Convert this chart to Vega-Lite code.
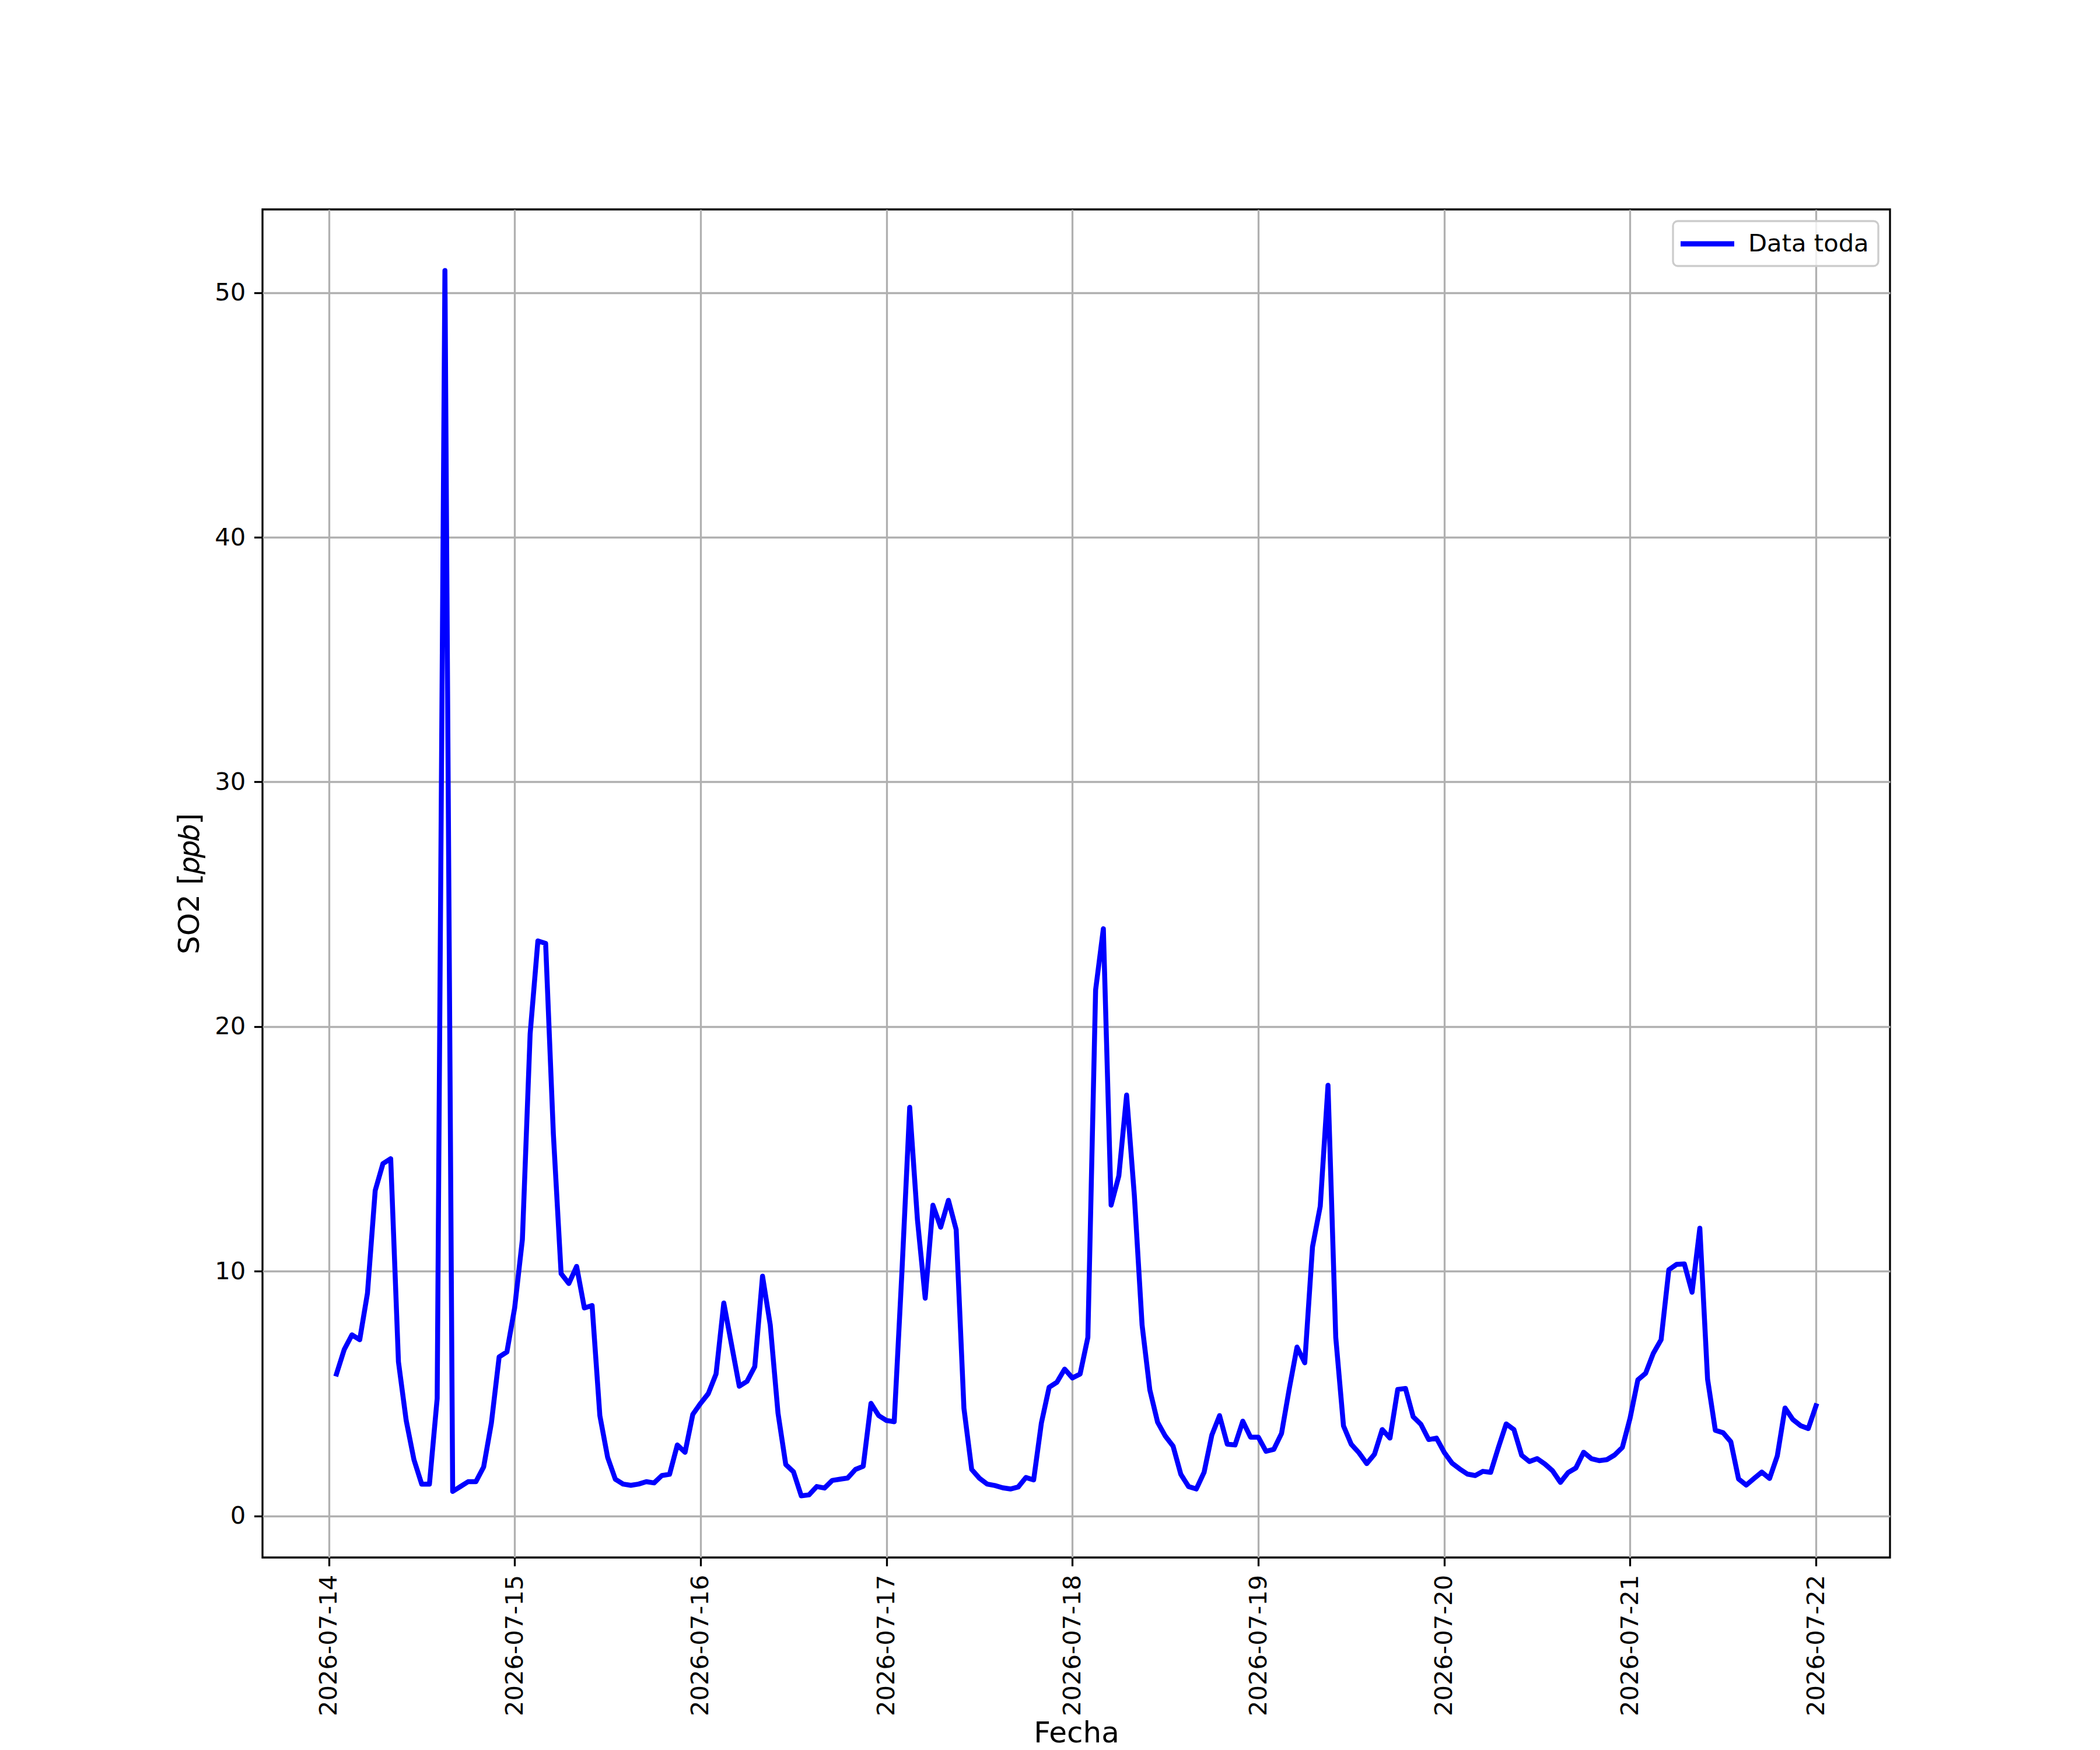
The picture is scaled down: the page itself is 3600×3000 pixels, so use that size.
{
  "$schema": "https://vega.github.io/schema/vega-lite/v6.json",
  "width": 2790,
  "height": 2311,
  "autosize": {"type": "none"},
  "padding": {"left": 450, "top": 359, "right": 360, "bottom": 330},
  "background": "white",
  "config": {
    "font": "DejaVu Sans",
    "view": {"stroke": "black", "strokeWidth": 3.3},
    "axis": {
      "domain": false,
      "grid": true,
      "gridColor": "#b0b0b0",
      "gridWidth": 3.3,
      "ticks": true,
      "tickColor": "black",
      "tickWidth": 3.3,
      "tickSize": 14.6,
      "labelFont": "DejaVu Sans",
      "labelFontSize": 41.7,
      "labelColor": "black",
      "labelPadding": 14.6,
      "labelOverlap": false,
      "labelFlush": false,
      "labelLimit": 0,
      "titleFont": "DejaVu Sans",
      "titleFontSize": 50,
      "titleFontWeight": "normal",
      "titleColor": "black",
      "titleLimit": 0
    },
    "legend": {
      "orient": "top-right",
      "offset": 20,
      "padding": 16,
      "strokeColor": "#cccccc",
      "strokeWidth": 3.3,
      "cornerRadius": 8,
      "fillColor": "rgba(255,255,255,0.8)",
      "labelFont": "DejaVu Sans",
      "labelFontSize": 41.7,
      "labelColor": "black",
      "labelLimit": 0,
      "symbolType": "M-2.5,0L2.5,0",
      "symbolSize": 1354,
      "symbolStrokeWidth": 9,
      "symbolOffset": 20,
      "labelOffset": 47
    }
  },
  "data": {
    "values": [
      {"t": "2026-07-14T01:00:00", "v": 5.8},
      {"t": "2026-07-14T02:00:00", "v": 6.8},
      {"t": "2026-07-14T03:00:00", "v": 7.4},
      {"t": "2026-07-14T04:00:00", "v": 7.2},
      {"t": "2026-07-14T05:00:00", "v": 9.1},
      {"t": "2026-07-14T06:00:00", "v": 13.3},
      {"t": "2026-07-14T07:00:00", "v": 14.4},
      {"t": "2026-07-14T08:00:00", "v": 14.6},
      {"t": "2026-07-14T09:00:00", "v": 6.3},
      {"t": "2026-07-14T10:00:00", "v": 3.9},
      {"t": "2026-07-14T11:00:00", "v": 2.3},
      {"t": "2026-07-14T12:00:00", "v": 1.3},
      {"t": "2026-07-14T13:00:00", "v": 1.3},
      {"t": "2026-07-14T14:00:00", "v": 4.8},
      {"t": "2026-07-14T15:00:00", "v": 50.9},
      {"t": "2026-07-14T16:00:00", "v": 1.0},
      {"t": "2026-07-14T17:00:00", "v": 1.2},
      {"t": "2026-07-14T18:00:00", "v": 1.4},
      {"t": "2026-07-14T19:00:00", "v": 1.4},
      {"t": "2026-07-14T20:00:00", "v": 2.0},
      {"t": "2026-07-14T21:00:00", "v": 3.8},
      {"t": "2026-07-14T22:00:00", "v": 6.5},
      {"t": "2026-07-14T23:00:00", "v": 6.7},
      {"t": "2026-07-15T00:00:00", "v": 8.5},
      {"t": "2026-07-15T01:00:00", "v": 11.3},
      {"t": "2026-07-15T02:00:00", "v": 19.7},
      {"t": "2026-07-15T03:00:00", "v": 23.5},
      {"t": "2026-07-15T04:00:00", "v": 23.4},
      {"t": "2026-07-15T05:00:00", "v": 15.6},
      {"t": "2026-07-15T06:00:00", "v": 9.9},
      {"t": "2026-07-15T07:00:00", "v": 9.5},
      {"t": "2026-07-15T08:00:00", "v": 10.2},
      {"t": "2026-07-15T09:00:00", "v": 8.5},
      {"t": "2026-07-15T10:00:00", "v": 8.6},
      {"t": "2026-07-15T11:00:00", "v": 4.1},
      {"t": "2026-07-15T12:00:00", "v": 2.4},
      {"t": "2026-07-15T13:00:00", "v": 1.5},
      {"t": "2026-07-15T14:00:00", "v": 1.3},
      {"t": "2026-07-15T15:00:00", "v": 1.25},
      {"t": "2026-07-15T16:00:00", "v": 1.3},
      {"t": "2026-07-15T17:00:00", "v": 1.4},
      {"t": "2026-07-15T18:00:00", "v": 1.35},
      {"t": "2026-07-15T19:00:00", "v": 1.65},
      {"t": "2026-07-15T20:00:00", "v": 1.7},
      {"t": "2026-07-15T21:00:00", "v": 2.9},
      {"t": "2026-07-15T22:00:00", "v": 2.6},
      {"t": "2026-07-15T23:00:00", "v": 4.15},
      {"t": "2026-07-16T00:00:00", "v": 4.6},
      {"t": "2026-07-16T01:00:00", "v": 5.0},
      {"t": "2026-07-16T02:00:00", "v": 5.8},
      {"t": "2026-07-16T03:00:00", "v": 8.7},
      {"t": "2026-07-16T04:00:00", "v": 7.0},
      {"t": "2026-07-16T05:00:00", "v": 5.3},
      {"t": "2026-07-16T06:00:00", "v": 5.5},
      {"t": "2026-07-16T07:00:00", "v": 6.1},
      {"t": "2026-07-16T08:00:00", "v": 9.8},
      {"t": "2026-07-16T09:00:00", "v": 7.8},
      {"t": "2026-07-16T10:00:00", "v": 4.2},
      {"t": "2026-07-16T11:00:00", "v": 2.1},
      {"t": "2026-07-16T12:00:00", "v": 1.8},
      {"t": "2026-07-16T13:00:00", "v": 0.82},
      {"t": "2026-07-16T14:00:00", "v": 0.86},
      {"t": "2026-07-16T15:00:00", "v": 1.2},
      {"t": "2026-07-16T16:00:00", "v": 1.14},
      {"t": "2026-07-16T17:00:00", "v": 1.45},
      {"t": "2026-07-16T18:00:00", "v": 1.5},
      {"t": "2026-07-16T19:00:00", "v": 1.55},
      {"t": "2026-07-16T20:00:00", "v": 1.9},
      {"t": "2026-07-16T21:00:00", "v": 2.03},
      {"t": "2026-07-16T22:00:00", "v": 4.6},
      {"t": "2026-07-16T23:00:00", "v": 4.1},
      {"t": "2026-07-17T00:00:00", "v": 3.9},
      {"t": "2026-07-17T01:00:00", "v": 3.85},
      {"t": "2026-07-17T02:00:00", "v": 10.0},
      {"t": "2026-07-17T03:00:00", "v": 16.7},
      {"t": "2026-07-17T04:00:00", "v": 12.1},
      {"t": "2026-07-17T05:00:00", "v": 8.9},
      {"t": "2026-07-17T06:00:00", "v": 12.7},
      {"t": "2026-07-17T07:00:00", "v": 11.8},
      {"t": "2026-07-17T08:00:00", "v": 12.9},
      {"t": "2026-07-17T09:00:00", "v": 11.7},
      {"t": "2026-07-17T10:00:00", "v": 4.4},
      {"t": "2026-07-17T11:00:00", "v": 1.9},
      {"t": "2026-07-17T12:00:00", "v": 1.54},
      {"t": "2026-07-17T13:00:00", "v": 1.3},
      {"t": "2026-07-17T14:00:00", "v": 1.24},
      {"t": "2026-07-17T15:00:00", "v": 1.15},
      {"t": "2026-07-17T16:00:00", "v": 1.1},
      {"t": "2026-07-17T17:00:00", "v": 1.18},
      {"t": "2026-07-17T18:00:00", "v": 1.57},
      {"t": "2026-07-17T19:00:00", "v": 1.47},
      {"t": "2026-07-17T20:00:00", "v": 3.8},
      {"t": "2026-07-17T21:00:00", "v": 5.26},
      {"t": "2026-07-17T22:00:00", "v": 5.46},
      {"t": "2026-07-17T23:00:00", "v": 6.0},
      {"t": "2026-07-18T00:00:00", "v": 5.64},
      {"t": "2026-07-18T01:00:00", "v": 5.8},
      {"t": "2026-07-18T02:00:00", "v": 7.3},
      {"t": "2026-07-18T03:00:00", "v": 21.5},
      {"t": "2026-07-18T04:00:00", "v": 24.0},
      {"t": "2026-07-18T05:00:00", "v": 12.7},
      {"t": "2026-07-18T06:00:00", "v": 13.9},
      {"t": "2026-07-18T07:00:00", "v": 17.2},
      {"t": "2026-07-18T08:00:00", "v": 13.1},
      {"t": "2026-07-18T09:00:00", "v": 7.8},
      {"t": "2026-07-18T10:00:00", "v": 5.15},
      {"t": "2026-07-18T11:00:00", "v": 3.83},
      {"t": "2026-07-18T12:00:00", "v": 3.26},
      {"t": "2026-07-18T13:00:00", "v": 2.85},
      {"t": "2026-07-18T14:00:00", "v": 1.7},
      {"t": "2026-07-18T15:00:00", "v": 1.2},
      {"t": "2026-07-18T16:00:00", "v": 1.1},
      {"t": "2026-07-18T17:00:00", "v": 1.78},
      {"t": "2026-07-18T18:00:00", "v": 3.3},
      {"t": "2026-07-18T19:00:00", "v": 4.1},
      {"t": "2026-07-18T20:00:00", "v": 2.93},
      {"t": "2026-07-18T21:00:00", "v": 2.9},
      {"t": "2026-07-18T22:00:00", "v": 3.87},
      {"t": "2026-07-18T23:00:00", "v": 3.22},
      {"t": "2026-07-19T00:00:00", "v": 3.22},
      {"t": "2026-07-19T01:00:00", "v": 2.64},
      {"t": "2026-07-19T02:00:00", "v": 2.72},
      {"t": "2026-07-19T03:00:00", "v": 3.37},
      {"t": "2026-07-19T04:00:00", "v": 5.2},
      {"t": "2026-07-19T05:00:00", "v": 6.9},
      {"t": "2026-07-19T06:00:00", "v": 6.26},
      {"t": "2026-07-19T07:00:00", "v": 11.0},
      {"t": "2026-07-19T08:00:00", "v": 12.66},
      {"t": "2026-07-19T09:00:00", "v": 17.6},
      {"t": "2026-07-19T10:00:00", "v": 7.3},
      {"t": "2026-07-19T11:00:00", "v": 3.68},
      {"t": "2026-07-19T12:00:00", "v": 2.93},
      {"t": "2026-07-19T13:00:00", "v": 2.58},
      {"t": "2026-07-19T14:00:00", "v": 2.14},
      {"t": "2026-07-19T15:00:00", "v": 2.52},
      {"t": "2026-07-19T16:00:00", "v": 3.53},
      {"t": "2026-07-19T17:00:00", "v": 3.18},
      {"t": "2026-07-19T18:00:00", "v": 5.17},
      {"t": "2026-07-19T19:00:00", "v": 5.21},
      {"t": "2026-07-19T20:00:00", "v": 4.05},
      {"t": "2026-07-19T21:00:00", "v": 3.74},
      {"t": "2026-07-19T22:00:00", "v": 3.12},
      {"t": "2026-07-19T23:00:00", "v": 3.18},
      {"t": "2026-07-20T00:00:00", "v": 2.6},
      {"t": "2026-07-20T01:00:00", "v": 2.16},
      {"t": "2026-07-20T02:00:00", "v": 1.92},
      {"t": "2026-07-20T03:00:00", "v": 1.71},
      {"t": "2026-07-20T04:00:00", "v": 1.65},
      {"t": "2026-07-20T05:00:00", "v": 1.82},
      {"t": "2026-07-20T06:00:00", "v": 1.78},
      {"t": "2026-07-20T07:00:00", "v": 2.8},
      {"t": "2026-07-20T08:00:00", "v": 3.76},
      {"t": "2026-07-20T09:00:00", "v": 3.53},
      {"t": "2026-07-20T10:00:00", "v": 2.48},
      {"t": "2026-07-20T11:00:00", "v": 2.22},
      {"t": "2026-07-20T12:00:00", "v": 2.34},
      {"t": "2026-07-20T13:00:00", "v": 2.12},
      {"t": "2026-07-20T14:00:00", "v": 1.84},
      {"t": "2026-07-20T15:00:00", "v": 1.37},
      {"t": "2026-07-20T16:00:00", "v": 1.77},
      {"t": "2026-07-20T17:00:00", "v": 1.96},
      {"t": "2026-07-20T18:00:00", "v": 2.6},
      {"t": "2026-07-20T19:00:00", "v": 2.34},
      {"t": "2026-07-20T20:00:00", "v": 2.26},
      {"t": "2026-07-20T21:00:00", "v": 2.3},
      {"t": "2026-07-20T22:00:00", "v": 2.49},
      {"t": "2026-07-20T23:00:00", "v": 2.8},
      {"t": "2026-07-21T00:00:00", "v": 4.0},
      {"t": "2026-07-21T01:00:00", "v": 5.56},
      {"t": "2026-07-21T02:00:00", "v": 5.83},
      {"t": "2026-07-21T03:00:00", "v": 6.65},
      {"t": "2026-07-21T04:00:00", "v": 7.2},
      {"t": "2026-07-21T05:00:00", "v": 10.06},
      {"t": "2026-07-21T06:00:00", "v": 10.28},
      {"t": "2026-07-21T07:00:00", "v": 10.3},
      {"t": "2026-07-21T08:00:00", "v": 9.14},
      {"t": "2026-07-21T09:00:00", "v": 11.76},
      {"t": "2026-07-21T10:00:00", "v": 5.59},
      {"t": "2026-07-21T11:00:00", "v": 3.5},
      {"t": "2026-07-21T12:00:00", "v": 3.4},
      {"t": "2026-07-21T13:00:00", "v": 3.03},
      {"t": "2026-07-21T14:00:00", "v": 1.51},
      {"t": "2026-07-21T15:00:00", "v": 1.26},
      {"t": "2026-07-21T16:00:00", "v": 1.53},
      {"t": "2026-07-21T17:00:00", "v": 1.79},
      {"t": "2026-07-21T18:00:00", "v": 1.53},
      {"t": "2026-07-21T19:00:00", "v": 2.45},
      {"t": "2026-07-21T20:00:00", "v": 4.41},
      {"t": "2026-07-21T21:00:00", "v": 3.94},
      {"t": "2026-07-21T22:00:00", "v": 3.69},
      {"t": "2026-07-21T23:00:00", "v": 3.57},
      {"t": "2026-07-22T00:00:00", "v": 4.5}
    ]
  },
  "mark": {"type": "line", "strokeWidth": 8.5, "strokeJoin": "round", "strokeCap": "square"},
  "encoding": {
    "x": {
      "field": "t",
      "type": "temporal",
      "scale": {
        "domain": [
          {"year": 2026, "month": 7, "date": 13, "hours": 15, "minutes": 27},
          {"year": 2026, "month": 7, "date": 22, "hours": 9, "minutes": 33}
        ],
        "nice": false
      },
      "axis": {
        "values": [
          {"year": 2026, "month": 7, "date": 14},
          {"year": 2026, "month": 7, "date": 15},
          {"year": 2026, "month": 7, "date": 16},
          {"year": 2026, "month": 7, "date": 17},
          {"year": 2026, "month": 7, "date": 18},
          {"year": 2026, "month": 7, "date": 19},
          {"year": 2026, "month": 7, "date": 20},
          {"year": 2026, "month": 7, "date": 21},
          {"year": 2026, "month": 7, "date": 22}
        ],
        "format": "%Y-%m-%d",
        "labelAngle": -90,
        "title": "Fecha",
        "titlePadding": 76
      }
    },
    "y": {
      "field": "v",
      "type": "quantitative",
      "scale": {"domain": [-1.7, 53.4], "nice": false, "zero": false},
      "axis": {
        "values": [0, 10, 20, 30, 40, 50],
        "title": "SO2 [𝑝𝑝𝑏]",
        "titlePadding": 17
      }
    },
    "color": {
      "datum": "Data toda",
      "type": "nominal",
      "scale": {"range": ["#0000ff"]},
      "legend": {"title": null}
    }
  }
}
